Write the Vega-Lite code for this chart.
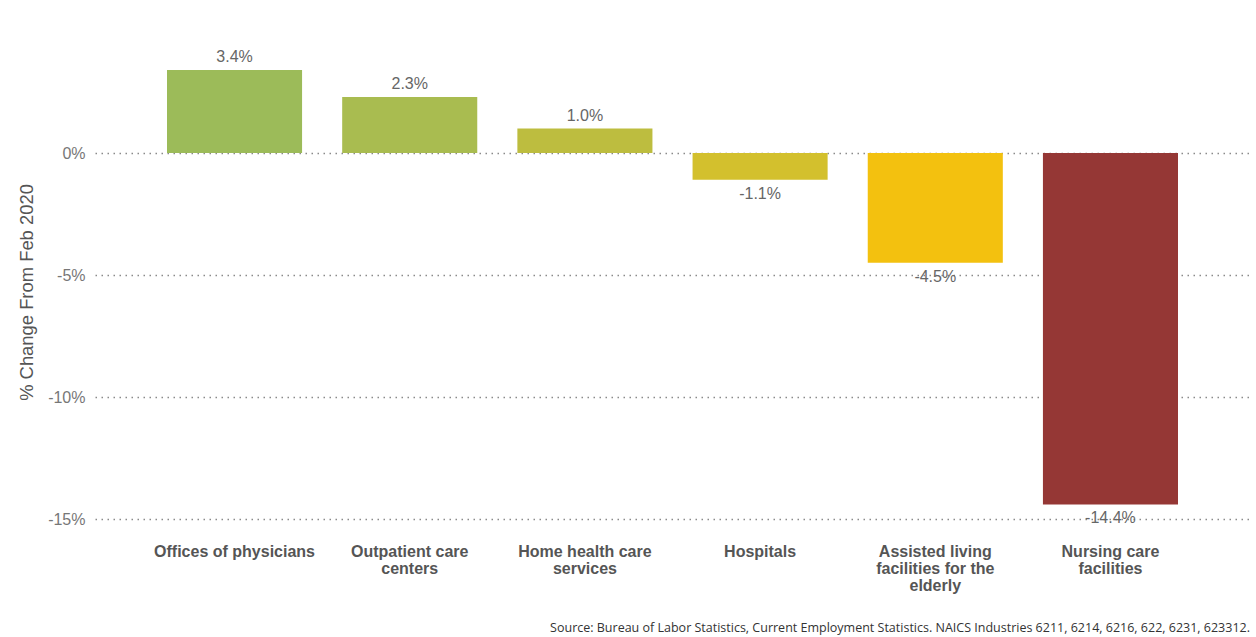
{
  "$schema": "https://vega.github.io/schema/vega-lite/v6.json",
  "width": 1155,
  "height": 504,
  "autosize": {"type": "none"},
  "padding": {"left": 95, "top": 20, "right": 6, "bottom": 113},
  "background": "white",
  "config": {
    "font": "Liberation Sans",
    "view": {"stroke": null},
    "locale": {"number": {"decimal": ".", "thousands": ",", "grouping": [3], "currency": ["$", ""], "minus": "-"}}
  },
  "title": {
    "text": "Source: Bureau of Labor Statistics, Current Employment Statistics. NAICS Industries 6211, 6214, 6216, 622, 6231, 623312.",
    "orient": "bottom",
    "anchor": "end",
    "font": "Open Sans",
    "fontSize": 12.5,
    "fontWeight": "normal",
    "color": "#333333",
    "offset": 29
  },
  "data": {
    "values": [
      {"industry": "Offices of physicians", "change": 0.034, "color": "#9CBB59"},
      {"industry": "Outpatient care|centers", "change": 0.023, "color": "#A9BC50"},
      {"industry": "Home health care|services", "change": 0.010, "color": "#BDBD3F"},
      {"industry": "Hospitals", "change": -0.011, "color": "#D3C02D"},
      {"industry": "Assisted living|facilities for the|elderly", "change": -0.045, "color": "#F3C10F"},
      {"industry": "Nursing care|facilities", "change": -0.144, "color": "#953735"}
    ]
  },
  "encoding": {
    "x": {
      "field": "industry",
      "type": "nominal",
      "sort": null,
      "scale": {"paddingInner": 0.229, "paddingOuter": 0.411},
      "axis": {
        "title": null,
        "labelAngle": 0,
        "ticks": false,
        "domain": false,
        "labelPadding": 19,
        "labelFontSize": 16,
        "labelFontWeight": "bold",
        "labelColor": "#555555",
        "labelLimit": 300,
        "labelLineHeight": 17,
        "labelExpr": "split(datum.value, '|')"
      }
    },
    "y": {
      "field": "change",
      "type": "quantitative",
      "scale": {"domain": [-0.152, 0.0545], "nice": false, "zero": false},
      "axis": {
        "title": "% Change From Feb 2020",
        "titleFontSize": 18.4,
        "titleFontWeight": "normal",
        "titleColor": "#555555",
        "titleX": -59,
        "titleY": 272,
        "titleAlign": "center",
        "values": [0, -0.05, -0.10, -0.15],
        "format": ".0%",
        "domain": false,
        "ticks": false,
        "labelPadding": 10,
        "labelFontSize": 16,
        "labelColor": "#777777",
        "grid": true,
        "gridColor": "#8a8a8a",
        "gridDash": [1.5, 4.5],
        "gridWidth": 1.4
      }
    }
  },
  "layer": [
    {
      "mark": {"type": "bar"},
      "encoding": {
        "color": {"field": "color", "type": "nominal", "scale": null, "legend": null}
      }
    },
    {
      "transform": [{"filter": "datum.change >= 0"}],
      "mark": {"type": "text", "baseline": "bottom", "dy": -5, "fontSize": 16, "color": "#666666"},
      "encoding": {"text": {"field": "change", "type": "quantitative", "format": ".1%"}}
    },
    {
      "transform": [{"filter": "datum.change < 0"}],
      "mark": {"type": "text", "baseline": "top", "dy": 6, "fontSize": 16, "color": "#666666"},
      "encoding": {"text": {"field": "change", "type": "quantitative", "format": ".1%"}}
    }
  ]
}
